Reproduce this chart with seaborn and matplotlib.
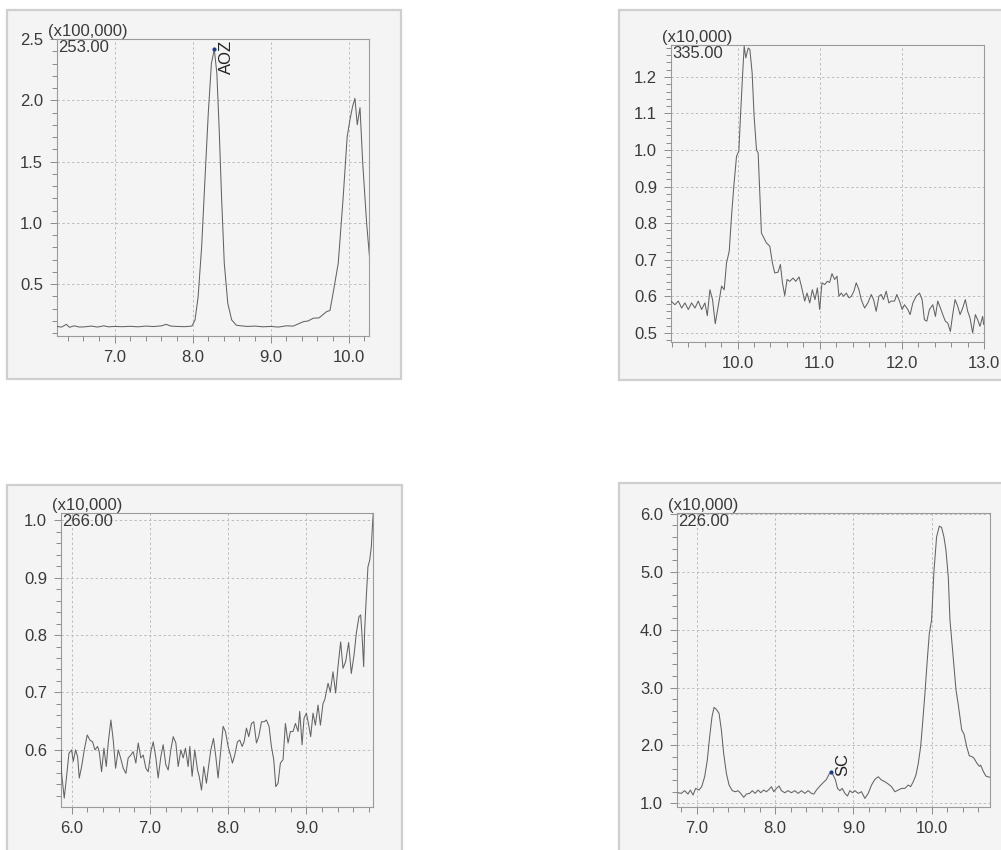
import matplotlib
matplotlib.use("Agg")
import matplotlib.pyplot as plt
import seaborn as sns
import pandas as pd
from matplotlib.patches import Rectangle
from matplotlib.ticker import MultipleLocator, FormatStrFormatter

# ---------------- data ----------------
# Panel 1: m/z 253.00 (x100,000), AOZ
p1_time = [6.26, 6.32, 6.38, 6.42, 6.48, 6.55, 6.62, 6.70, 6.78, 6.86,
           6.92, 7.00, 7.10, 7.20, 7.30, 7.40, 7.50, 7.60, 7.66, 7.72,
           7.80, 7.90, 7.99, 8.03, 8.07, 8.115, 8.157, 8.20, 8.24, 8.277,
           8.31, 8.34, 8.37, 8.405, 8.45, 8.50, 8.56, 8.62, 8.70, 8.80,
           8.90, 9.00, 9.10, 9.20, 9.29, 9.35, 9.42, 9.48, 9.546, 9.62,
           9.717, 9.76, 9.80, 9.866, 9.93, 9.98, 10.016, 10.05, 10.08, 10.11,
           10.145, 10.18, 10.23, 10.27]
p1_int = [0.155, 0.150, 0.172, 0.148, 0.160, 0.150, 0.152, 0.158, 0.150, 0.160,
          0.152, 0.155, 0.153, 0.156, 0.152, 0.158, 0.154, 0.160, 0.172, 0.158,
          0.155, 0.153, 0.158, 0.208, 0.398, 0.806, 1.35, 1.894, 2.30, 2.416,
          2.22, 1.76, 1.214, 0.67, 0.344, 0.208, 0.165, 0.160, 0.155, 0.158,
          0.152, 0.155, 0.150, 0.160, 0.158, 0.175, 0.194, 0.200, 0.222, 0.225,
          0.276, 0.285, 0.426, 0.67, 1.214, 1.70, 1.84, 1.95, 2.016, 1.80,
          1.94, 1.486, 0.997, 0.70]

# Panel 2: m/z 335.00 (x10,000)
p2_time = [9.19, 9.239, 9.279, 9.32, 9.36, 9.401, 9.441, 9.482, 9.522, 9.563,
           9.603, 9.632, 9.664, 9.696, 9.729, 9.765, 9.806, 9.838, 9.866, 9.899,
           9.927, 9.955, 9.988, 10.016, 10.036, 10.061, 10.081, 10.101, 10.13, 10.15,
           10.178, 10.202, 10.231, 10.251, 10.271, 10.291, 10.32, 10.352, 10.393, 10.425,
           10.453, 10.494, 10.522, 10.547, 10.575, 10.603, 10.636, 10.676, 10.709, 10.749,
           10.777, 10.818, 10.846, 10.879, 10.911, 10.943, 10.972, 11.0, 11.028, 11.061,
           11.093, 11.121, 11.15, 11.182, 11.211, 11.235, 11.263, 11.291, 11.324, 11.356,
           11.385, 11.417, 11.445, 11.478, 11.506, 11.547, 11.587, 11.628, 11.656, 11.688,
           11.721, 11.749, 11.777, 11.81, 11.842, 11.87, 11.911, 11.939, 11.972, 12.004,
           12.032, 12.073, 12.101, 12.134, 12.174, 12.215, 12.247, 12.275, 12.304, 12.336,
           12.377, 12.409, 12.437, 12.47, 12.498, 12.53, 12.559, 12.591, 12.619, 12.648,
           12.68, 12.709, 12.741, 12.773, 12.802, 12.83, 12.862, 12.895, 12.923, 12.951,
           12.984, 12.996]
p2_int = [0.587, 0.577, 0.587, 0.568, 0.582, 0.564, 0.582, 0.568, 0.587, 0.564,
          0.582, 0.547, 0.618, 0.591, 0.525, 0.573, 0.628, 0.618, 0.691, 0.723,
          0.819, 0.901, 0.983, 0.997, 1.092, 1.202, 1.284, 1.252, 1.279, 1.275,
          1.211, 1.092, 1.001, 0.992, 0.883, 0.773, 0.760, 0.746, 0.737, 0.691,
          0.664, 0.666, 0.687, 0.637, 0.602, 0.646, 0.641, 0.650, 0.641, 0.653,
          0.628, 0.587, 0.609, 0.582, 0.618, 0.591, 0.623, 0.564, 0.637, 0.632,
          0.641, 0.638, 0.662, 0.646, 0.655, 0.600, 0.609, 0.600, 0.609, 0.596,
          0.600, 0.614, 0.637, 0.618, 0.591, 0.568, 0.582, 0.605, 0.591, 0.559,
          0.600, 0.605, 0.591, 0.614, 0.582, 0.587, 0.587, 0.605, 0.587, 0.564,
          0.577, 0.564, 0.550, 0.582, 0.600, 0.609, 0.591, 0.536, 0.532, 0.564,
          0.577, 0.545, 0.587, 0.568, 0.550, 0.532, 0.527, 0.504, 0.550, 0.591,
          0.573, 0.550, 0.568, 0.591, 0.559, 0.541, 0.500, 0.550, 0.536, 0.518,
          0.545, 0.523]

# Panel 3: m/z 266.00 (x10,000)
p3_time = [5.864, 5.872, 5.906, 5.936, 5.966, 6.0, 6.021, 6.051, 6.077, 6.098,
           6.128, 6.162, 6.2, 6.234, 6.268, 6.298, 6.332, 6.353, 6.383, 6.413,
           6.443, 6.468, 6.502, 6.532, 6.562, 6.596, 6.626, 6.66, 6.694, 6.723,
           6.757, 6.787, 6.821, 6.851, 6.885, 6.915, 6.949, 6.979, 7.013, 7.043,
           7.077, 7.106, 7.14, 7.17, 7.204, 7.234, 7.268, 7.298, 7.332, 7.362,
           7.396, 7.426, 7.455, 7.489, 7.511, 7.54, 7.574, 7.609, 7.63, 7.66,
           7.689, 7.723, 7.753, 7.779, 7.813, 7.843, 7.872, 7.902, 7.936, 7.966,
           8.0, 8.03, 8.055, 8.085, 8.119, 8.149, 8.179, 8.204, 8.234, 8.264,
           8.298, 8.328, 8.362, 8.391, 8.426, 8.46, 8.489, 8.523, 8.553, 8.583,
           8.609, 8.638, 8.668, 8.702, 8.732, 8.766, 8.796, 8.83, 8.86, 8.894,
           8.915, 8.945, 8.97, 9.0, 9.03, 9.055, 9.085, 9.115, 9.149, 9.179,
           9.213, 9.234, 9.277, 9.306, 9.34, 9.374, 9.404, 9.438, 9.468, 9.502,
           9.54, 9.574, 9.609, 9.638, 9.672, 9.694, 9.715, 9.732, 9.745, 9.766,
           9.787, 9.809, 9.83, 9.843, 9.855]
p3_int = [0.600, 0.559, 0.516, 0.554, 0.594, 0.600, 0.580, 0.600, 0.588, 0.551,
          0.571, 0.600, 0.626, 0.617, 0.614, 0.600, 0.606, 0.597, 0.562, 0.603,
          0.571, 0.612, 0.652, 0.617, 0.568, 0.600, 0.586, 0.568, 0.559, 0.586,
          0.591, 0.597, 0.577, 0.612, 0.586, 0.591, 0.568, 0.562, 0.597, 0.614,
          0.586, 0.551, 0.588, 0.609, 0.574, 0.565, 0.600, 0.623, 0.612, 0.571,
          0.600, 0.586, 0.603, 0.571, 0.606, 0.554, 0.600, 0.565, 0.554, 0.530,
          0.571, 0.542, 0.574, 0.600, 0.620, 0.588, 0.551, 0.594, 0.641, 0.632,
          0.606, 0.591, 0.577, 0.591, 0.614, 0.617, 0.606, 0.614, 0.638, 0.623,
          0.646, 0.649, 0.612, 0.623, 0.649, 0.649, 0.652, 0.641, 0.606, 0.583,
          0.536, 0.542, 0.577, 0.583, 0.646, 0.612, 0.632, 0.632, 0.646, 0.632,
          0.667, 0.609, 0.655, 0.664, 0.643, 0.623, 0.664, 0.643, 0.678, 0.643,
          0.681, 0.687, 0.716, 0.701, 0.736, 0.699, 0.745, 0.788, 0.742, 0.754,
          0.787, 0.733, 0.765, 0.803, 0.832, 0.835, 0.791, 0.745, 0.809, 0.867,
          0.919, 0.930, 0.954, 0.988, 1.012]

# Panel 4: m/z 226.00 (x10,000), SC
p4_time = [6.757, 6.799, 6.842, 6.885, 6.915, 6.949, 6.983, 7.026, 7.06, 7.098,
           7.132, 7.162, 7.192, 7.218, 7.248, 7.282, 7.312, 7.341, 7.376, 7.41,
           7.452, 7.491, 7.525, 7.559, 7.598, 7.632, 7.674, 7.708, 7.743, 7.781,
           7.815, 7.854, 7.888, 7.922, 7.952, 7.982, 8.016, 8.05, 8.08, 8.122,
           8.165, 8.208, 8.251, 8.293, 8.336, 8.379, 8.421, 8.464, 8.494, 8.528,
           8.571, 8.613, 8.656, 8.69, 8.72, 8.741, 8.771, 8.797, 8.827, 8.857,
           8.891, 8.925, 8.955, 8.989, 9.019, 9.061, 9.104, 9.147, 9.19, 9.232,
           9.275, 9.318, 9.36, 9.403, 9.446, 9.488, 9.531, 9.574, 9.616, 9.659,
           9.702, 9.732, 9.766, 9.8, 9.83, 9.86, 9.885, 9.915, 9.945, 9.971,
           10.0, 10.03, 10.064, 10.099, 10.128, 10.158, 10.184, 10.214, 10.235, 10.278,
           10.312, 10.342, 10.385, 10.414, 10.449, 10.483, 10.513, 10.542, 10.577, 10.611,
           10.628, 10.662, 10.696, 10.747]
p4_int = [1.184, 1.173, 1.219, 1.161, 1.230, 1.144, 1.259, 1.230, 1.288, 1.460,
          1.748, 2.151, 2.496, 2.658, 2.623, 2.554, 2.266, 1.863, 1.518, 1.317,
          1.219, 1.201, 1.219, 1.173, 1.104, 1.161, 1.173, 1.219, 1.173, 1.230,
          1.184, 1.230, 1.201, 1.242, 1.288, 1.201, 1.259, 1.299, 1.219, 1.184,
          1.219, 1.184, 1.219, 1.173, 1.219, 1.173, 1.219, 1.173, 1.161, 1.230,
          1.299, 1.357, 1.414, 1.506, 1.547, 1.489, 1.403, 1.259, 1.219, 1.259,
          1.173, 1.127, 1.219, 1.184, 1.219, 1.173, 1.201, 1.086, 1.173, 1.317,
          1.414, 1.460, 1.403, 1.374, 1.334, 1.288, 1.201, 1.230, 1.259, 1.259,
          1.317, 1.288, 1.374, 1.489, 1.691, 1.978, 2.381, 2.899, 3.475, 3.935,
          4.165, 5.0, 5.6, 5.788, 5.765, 5.60, 5.37, 4.90, 4.17, 3.50,
          2.96, 2.70, 2.27, 2.20, 1.98, 1.82, 1.81, 1.78, 1.70, 1.64,
          1.66, 1.55, 1.47, 1.45]

mz_labels = ["253.00", "335.00", "266.00", "226.00"]
mult_labels = ["(x100,000)", "(x10,000)", "(x10,000)", "(x10,000)"]
peak_names = ["AOZ", "SC"]
peak_points = [(8.277, 2.42), (8.72, 1.55)]

# ---------------- style ----------------
sns.set_style("ticks")
plt.rcParams['font.family'] = ['Liberation Sans Narrow', 'Liberation Sans', 'DejaVu Sans']

TXT = "#3a3a3a"
LINE = "#636363"
BG = "#f4f4f4"
FS = 12

fig = plt.figure(figsize=(10.01, 8.5), dpi=100)
fig.patch.set_facecolor("white")

frames = [(0.007, 0.554, 0.3936, 0.434),
          (0.6184, 0.5529, 0.40, 0.4353),
          (0.007, -0.02, 0.3946, 0.4494),
          (0.6184, -0.02, 0.40, 0.4518)]
for (fx, fy, fw, fh) in frames:
    fig.add_artist(Rectangle((fx, fy), fw, fh, transform=fig.transFigure,
                             facecolor=BG, edgecolor="#cfcfcf", linewidth=1.6,
                             zorder=0))

panels = [
    dict(rect=[0.0569, 0.6047, 0.3117, 0.3494], t=p1_time, y=p1_int,
         xlim=(6.26, 10.26), ylim=(0.077, 2.5), xmaj=1.0, xmin=0.2,
         ymin=0.1, yticks=[0.5, 1.0, 1.5, 2.0, 2.5]),
    dict(rect=[0.6703, 0.5976, 0.3127, 0.3494], t=p2_time, y=p2_int,
         xlim=(9.19, 13.0), ylim=(0.475, 1.287), xmaj=1.0, xmin=0.2,
         ymin=0.02, yticks=[0.5, 0.6, 0.7, 0.8, 0.9, 1.0, 1.1, 1.2]),
    dict(rect=[0.0609, 0.0509, 0.3117, 0.3459], t=p3_time, y=p3_int,
         xlim=(5.864, 9.851), ylim=(0.501, 1.013), xmaj=1.0, xmin=0.2,
         ymin=0.02, yticks=[0.6, 0.7, 0.8, 0.9, 1.0]),
    dict(rect=[0.6763, 0.0509, 0.3127, 0.3459], t=p4_time, y=p4_int,
         xlim=(6.744, 10.747), ylim=(0.942, 6.019), xmaj=1.0, xmin=0.2,
         ymin=0.2, yticks=[1.0, 2.0, 3.0, 4.0, 5.0, 6.0]),
]

axes = []
for i, p in enumerate(panels):
    ax = fig.add_axes(p["rect"])
    ax.set_facecolor(BG)
    df = pd.DataFrame({"time": p["t"], "intensity": p["y"]})
    sns.lineplot(data=df, x="time", y="intensity", ax=ax, color=LINE,
                 linewidth=0.75, estimator=None, sort=False, zorder=3)
    ax.set_xlim(*p["xlim"])
    ax.set_ylim(*p["ylim"])
    ax.xaxis.set_major_locator(MultipleLocator(p["xmaj"]))
    ax.xaxis.set_minor_locator(MultipleLocator(p["xmin"]))
    ax.set_yticks(p["yticks"])
    ax.yaxis.set_minor_locator(MultipleLocator(p["ymin"]))
    ax.xaxis.set_major_formatter(FormatStrFormatter("%.1f"))
    ax.yaxis.set_major_formatter(FormatStrFormatter("%.1f"))
    ax.set_xlabel("")
    ax.set_ylabel("")
    ax.grid(True, which="major", color="#bdbdbd", linestyle=(0, (2.5, 2.5)),
            linewidth=0.7, zorder=1)
    ax.tick_params(which="both", direction="out", colors="#8a8a8a",
                   labelcolor=TXT, labelsize=FS, width=0.7)
    ax.tick_params(which="major", length=5, pad=5)
    ax.tick_params(which="minor", length=3.5)
    for s in ax.spines.values():
        s.set_color("#9a9a9a")
        s.set_linewidth(0.8)
    ax.annotate(mult_labels[i], xy=(0, 1), xycoords="axes fraction",
                xytext=(-9, 0), textcoords="offset pixels",
                ha="left", va="bottom", fontsize=FS, color=TXT)
    ax.annotate(mz_labels[i], xy=(0, 1), xycoords="axes fraction",
                xytext=(1, -1), textcoords="offset pixels",
                ha="left", va="top", fontsize=FS, color=TXT)
    axes.append(ax)

# peak annotations
ax1, ax4 = axes[0], axes[3]
ax1.plot([peak_points[0][0]], [peak_points[0][1]], marker="o", markersize=2,
         color="#1a3a8a", zorder=4)
ax1.annotate(peak_names[0], xy=peak_points[0], xycoords="data", xytext=(5, 9),
             textcoords="offset pixels", rotation=90, ha="left", va="top",
             fontsize=FS, color="#222222")
ax4.plot([peak_points[1][0]], [peak_points[1][1]], marker="o", markersize=2,
         color="#1a3a8a", zorder=4)
ax4.annotate(peak_names[1], xy=peak_points[1], xycoords="data", xytext=(4, -4),
             textcoords="offset pixels", rotation=90, ha="left", va="bottom",
             fontsize=FS, color="#222222")

fig.savefig("out.png", dpi=100, facecolor="white")
